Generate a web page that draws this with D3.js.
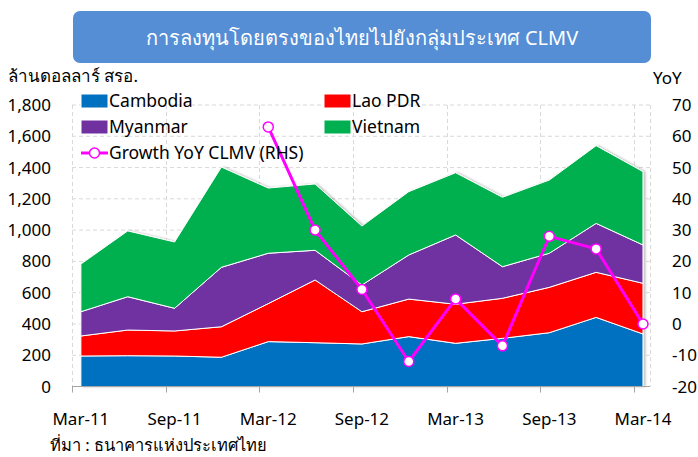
<!DOCTYPE html>
<html><head><meta charset="utf-8">
<script src="https://cdn.jsdelivr.net/npm/d3@7"></script>
<style>
html,body{margin:0;padding:0;background:#fff;}
svg{display:block;font-family:"Noto Sans","Open Sans",sans-serif;}
</style></head>
<body>
<svg id="c" width="698" height="457"></svg>
<script>
const categories = ["Mar-11","Jun-11","Sep-11","Dec-11","Mar-12","Jun-12","Sep-12","Dec-12","Mar-13","Jun-13","Sep-13","Dec-13","Mar-14"];
const tickLabels = ["Mar-11","Sep-11","Mar-12","Sep-12","Mar-13","Sep-13","Mar-14"];
const cambodia = [195,197,195,187,287,280,272,319,276,308,344,442,336];
const laoPDR   = [128,164,160,195,243,401,206,240,250,256,290,288,324];
const myanmar  = [155,213,145,380,322,190,171,282,443,202,218,313,245];
const vietnam  = [305,421,424,641,417,424,377,405,398,444,468,497,469];
const growthYoY = [null,null,null,null,63,30,11,-12,8,-7,28,24,0];
const leftTicks = [0,200,400,600,800,1000,1200,1400,1600,1800];
const rightTicks = [-20,-10,0,10,20,30,40,50,60,70];

const seriesNames = ["Cambodia","Lao PDR","Myanmar","Vietnam"];
const colors = {"Cambodia":"#0070C0","Lao PDR":"#FF0000","Myanmar":"#7030A0","Vietnam":"#00B050"};
const magenta = "#FF00FF";

const svg = d3.select("#c");
const L = 72, R = 650, T = 105, B = 386.5;
const offset = 0.19;
const x = d3.scaleLinear().domain([-offset, 12.15]).range([L, R]);
const y = d3.scaleLinear().domain([0, 1800]).range([B, T]);
const y2 = d3.scaleLinear().domain([-20, 70]).range([B, T]);

// title box
svg.append("rect").attr("x",73).attr("y",11).attr("width",578).attr("height",52)
  .attr("rx",7).attr("fill","#558ED5");
svg.append("text").attr("x",362).attr("y",45).attr("text-anchor","middle")
  .attr("fill","#fff").attr("font-size",20).text("การลงทุนโดยตรงของไทยไปยังกลุ่มประเทศ CLMV");

svg.append("text").attr("x",8).attr("y",82).attr("font-size",17).attr("fill","#000").text("ล้านดอลลาร์ สรอ.");
svg.append("text").attr("x",653).attr("y",84).attr("font-size",17).attr("fill","#000").text("YoY");

// grid
const grid = svg.append("g").attr("stroke","#D9D9D9").attr("stroke-dasharray","4,3").attr("stroke-width",1);
leftTicks.filter(d=>d>0).forEach(d=>{
  grid.append("line").attr("x1",L).attr("x2",R).attr("y1",y(d)).attr("y2",y(d));
});
const tickIdx = d3.range(0,13,2);
tickIdx.forEach(i=>{
  const xx = Math.round(x(i-offset))+0.5;
  grid.append("line").attr("x1",xx).attr("x2",xx).attr("y1",T).attr("y2",B);
});
grid.append("line").attr("x1",R+0.5).attr("x2",R+0.5).attr("y1",T).attr("y2",B);

// stacked data
const table = categories.map((c,i)=>({cat:c,i:i,"Cambodia":cambodia[i],"Lao PDR":laoPDR[i],"Myanmar":myanmar[i],"Vietnam":vietnam[i]}));
const stack = d3.stack().keys(seriesNames)(table);
const area = d3.area().x(d=>x(d.data.i)).y0(d=>y(d[0])).y1(d=>y(d[1]));

// shadow
svg.append("defs").append("filter").attr("id","sh").attr("x","-5%").attr("y","-5%").attr("width","110%").attr("height","110%")
  .html('<feDropShadow dx="2" dy="0" stdDeviation="1.2" flood-color="#000" flood-opacity="0.25"/>');
const ag = svg.append("g").attr("filter","url(#sh)");
ag.selectAll("path").data(stack).join("path")
  .attr("d",area).attr("fill",d=>colors[d.key]).attr("stroke","#fff").attr("stroke-width",1).attr("stroke-linejoin","round");

// x axis
svg.append("line").attr("x1",L).attr("x2",R).attr("y1",B).attr("y2",B).attr("stroke","#A6A6A6");
tickIdx.forEach(i=>{
  const xx = Math.round(x(i-offset))+0.5;
  svg.append("line").attr("x1",xx).attr("x2",xx).attr("y1",B).attr("y2",B+6).attr("stroke","#A6A6A6");
});
svg.append("g").selectAll("text").data(tickIdx).join("text")
  .attr("x",i=>x(i)).attr("y",425).attr("text-anchor","middle").attr("font-size",17).attr("fill","#000")
  .text((d,k)=>tickLabels[k]);

// left axis labels
svg.append("g").selectAll("text").data(leftTicks).join("text")
  .attr("x",51).attr("y",d=>y(d)+6).attr("text-anchor","end").attr("font-size",17).attr("fill","#000")
  .text(d=>d3.format(",")(d));
// right axis labels
svg.append("g").selectAll("text").data(rightTicks).join("text")
  .attr("x",672).attr("y",d=>y2(d)+6).attr("text-anchor","start").attr("font-size",17).attr("fill","#000")
  .text(d=>d);

// growth line
const gdata = growthYoY.map((v,i)=>({i:i,v:v})).filter(d=>d.v!==null);
svg.append("path").datum(gdata)
  .attr("d",d3.line().x(d=>x(d.i)).y(d=>y2(d.v)))
  .attr("fill","none").attr("stroke",magenta).attr("stroke-width",3).attr("stroke-linejoin","round");
svg.append("g").selectAll("circle").data(gdata).join("circle")
  .attr("cx",d=>x(d.i)).attr("cy",d=>y2(d.v)).attr("r",5)
  .attr("fill","#fff").attr("stroke",magenta).attr("stroke-width",1.5);

// legend
const leg = svg.append("g").attr("font-size",17.5).attr("fill","#000");
const legItems = [
  {name:"Cambodia",x:81,y:101},{name:"Lao PDR",x:324,y:101},
  {name:"Myanmar",x:81,y:127},{name:"Vietnam",x:324,y:127}
];
legItems.forEach(it=>{
  leg.append("rect").attr("x",it.x).attr("y",it.y-7).attr("width",27).attr("height",14)
    .attr("fill",colors[it.name]).attr("stroke","#fff").attr("stroke-width",1);
  leg.append("text").attr("x",it.x+28).attr("y",it.y+6).text(it.name);
});
leg.append("line").attr("x1",81).attr("x2",108).attr("y1",153).attr("y2",153).attr("stroke",magenta).attr("stroke-width",3);
leg.append("circle").attr("cx",94.5).attr("cy",153).attr("r",5).attr("fill","#fff").attr("stroke",magenta).attr("stroke-width",1.5);
leg.append("text").attr("x",109).attr("y",159).text("Growth YoY CLMV (RHS)");

// source
svg.append("text").attr("x",50).attr("y",451).attr("font-size",16.5).attr("fill","#000").text("ที่มา : ธนาคารแห่งประเทศไทย");
</script>
</body></html>
